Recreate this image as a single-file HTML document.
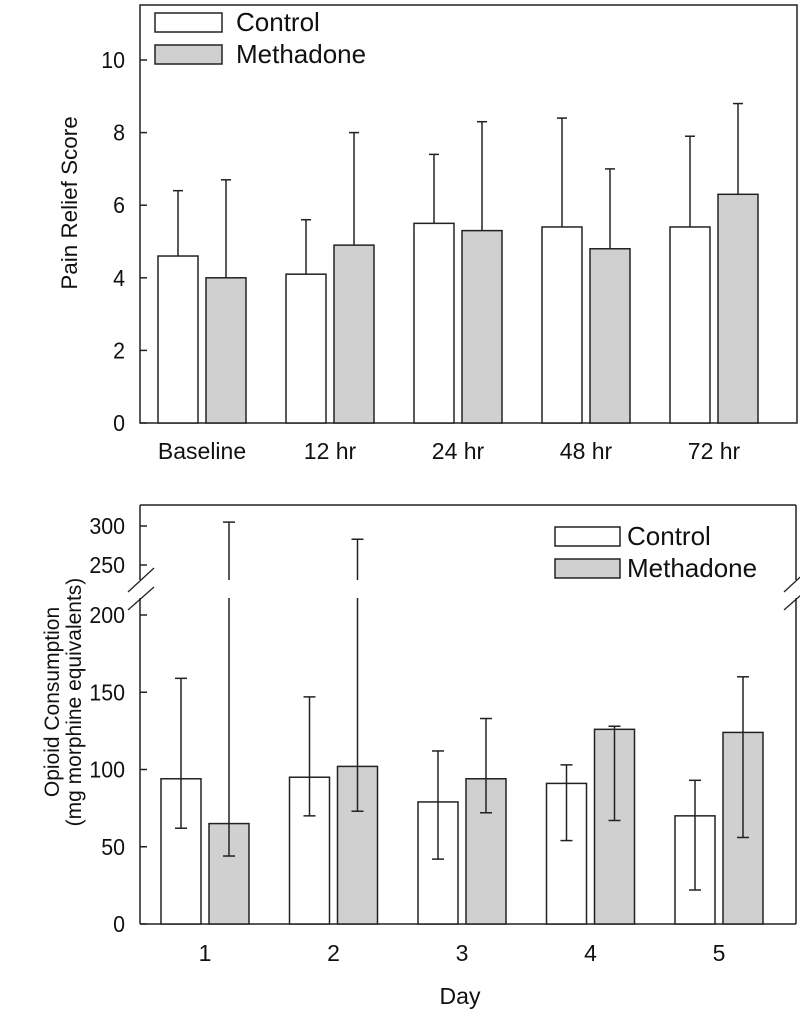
<!DOCTYPE html>
<html><head><meta charset="utf-8"><style>
body{margin:0;background:#fff}
svg{display:block;font-family:"Liberation Sans",Arial,sans-serif}
</style></head><body>
<svg id="c" width="800" height="1012" viewBox="0 0 800 1012" xmlns="http://www.w3.org/2000/svg"></svg>
<script>
const topCats=["Baseline","12 hr","24 hr","48 hr","72 hr"];
const topControl=[4.6,4.1,5.5,5.4,5.4];
const topControlErr=[6.4,5.6,7.4,8.4,7.9];
const topMeth=[4.0,4.9,5.3,4.8,6.3];
const topMethErr=[6.7,8.0,8.3,7.0,8.8];
const topTicks=[0,2,4,6,8,10];
const botCats=["1","2","3","4","5"];
const botControl=[94,95,79,91,70];
const botControlLo=[62,70,42,54,22];
const botControlHi=[159,147,112,103,93];
const botMeth=[65,102,94,126,124];
const botMethLo=[44,73,72,67,56];
const botMethHi=[305,283,133,128,160];
const botTicks=[0,50,100,150,200,250,300];

const svg=document.getElementById('c');
const NS='http://www.w3.org/2000/svg';
function mk(tag,attrs,parent,name){const e=document.createElementNS(NS,tag);for(const k in attrs)e.setAttribute(k,attrs[k]);


(parent||svg).appendChild(e);return e;}
function txt(x,y,s,size,anchor,name,rot,sx){
 sx=sx||1;
 const tr=rot?`translate(${x},${y}) rotate(-90) scale(${sx},1)`:`translate(${x},${y}) scale(${sx},1)`;
 const t=mk('text',{x:0,y:0,'font-size':size,'text-anchor':anchor,fill:'#111',transform:tr},svg,name);t.textContent=s;return t;}
const stroke='#222';

// ---------- top chart ----------
const tL=140,tR=797,tT=5,tB=423;
const ty=v=>tB-(v/10)*(423-60);
const tx=i=>202+i*128;
mk('rect',{x:tL,y:tT,width:tR-tL,height:tB-tT,fill:'none',stroke:stroke,'stroke-width':1.5},svg,'top-plot-frame');
topTicks.forEach(v=>{mk('line',{x1:tL,x2:tL+7,y1:ty(v),y2:ty(v),stroke:stroke,'stroke-width':1.5},svg,'top-y-tick');
 txt(125,ty(v)+8,String(v),23,'end','top-y-tick-label',false,0.93);});
topCats.forEach((c,i)=>{
 const cx=tx(i);
 [[topControl,topControlErr,'#fff',-44,'control'],[topMeth,topMethErr,'#d0d0d0',4,'methadone']].forEach(([vals,err,fill,off,nm])=>{
  const x=cx+off;
  mk('line',{x1:x+20,x2:x+20,y1:ty(err[i]),y2:ty(vals[i]),stroke:stroke,'stroke-width':1.5},svg,'top-error-bar-'+nm);
  mk('line',{x1:x+15,x2:x+25,y1:ty(err[i]),y2:ty(err[i]),stroke:stroke,'stroke-width':1.5},svg,'top-error-cap-'+nm);
  mk('rect',{x:x,y:ty(vals[i]),width:40,height:tB-ty(vals[i]),fill:fill,stroke:stroke,'stroke-width':1.5},svg,'top-bar-'+nm);
 });
 txt(cx,459,c,23,'middle','top-x-tick-label');
});
txt(77,203,'Pain Relief Score',22,'middle','top-y-axis-title',true,1.02);
mk('rect',{x:155,y:13,width:67,height:19,fill:'#fff',stroke:stroke,'stroke-width':1.5},svg,'top-legend-swatch-control');
mk('rect',{x:155,y:45,width:67,height:19,fill:'#d0d0d0',stroke:stroke,'stroke-width':1.5},svg,'top-legend-swatch-methadone');
txt(236,31,'Control',26,'start','top-legend-label-control');
txt(236,63,'Methadone',26,'start','top-legend-label-methadone');

// ---------- bottom chart ----------
const bL=140,bR=796,bT=505,bB=924;
const by=v=>v<=200?bB-v*1.545:565-(v-250)*0.78;
const bx=i=>205+i*128.5;
mk('line',{x1:bL,x2:bR,y1:bT,y2:bT,stroke:stroke,'stroke-width':1.5},svg,'bottom-plot-top');
mk('line',{x1:bL,x2:bR,y1:bB,y2:bB,stroke:stroke,'stroke-width':1.5},svg,'bottom-x-axis');
mk('line',{x1:bL,x2:bL,y1:bT,y2:580,stroke:stroke,'stroke-width':1.5},svg,'bottom-y-axis-upper');
mk('line',{x1:bL,x2:bL,y1:598,y2:bB,stroke:stroke,'stroke-width':1.5},svg,'bottom-y-axis-lower');
mk('line',{x1:bR,x2:bR,y1:bT,y2:580,stroke:stroke,'stroke-width':1.5},svg,'bottom-right-upper');
mk('line',{x1:bR,x2:bR,y1:598,y2:bB,stroke:stroke,'stroke-width':1.5},svg,'bottom-right-lower');
[[128,592,154,568],[128,610,154,587],[784,592,810,568],[784,610,810,587]].forEach(p=>mk('line',{x1:p[0],y1:p[1],x2:p[2],y2:p[3],stroke:stroke,'stroke-width':1.3},svg,'axis-break-mark'));
botTicks.forEach(v=>{mk('line',{x1:bL,x2:bL+7,y1:by(v),y2:by(v),stroke:stroke,'stroke-width':1.5},svg,'bottom-y-tick');
 txt(125,by(v)+8,String(v),23,'end','bottom-y-tick-label',false,0.93);});
function errLine(x,lo,hi,nm){
 if(hi>200){
  mk('line',{x1:x,x2:x,y1:by(lo),y2:598,stroke:stroke,'stroke-width':1.5},svg,'bottom-error-bar-'+nm);
  mk('line',{x1:x,x2:x,y1:580,y2:by(hi),stroke:stroke,'stroke-width':1.5},svg,'bottom-error-bar-upper-'+nm);
 } else mk('line',{x1:x,x2:x,y1:by(lo),y2:by(hi),stroke:stroke,'stroke-width':1.5},svg,'bottom-error-bar-'+nm);
 [lo,hi].forEach(v=>mk('line',{x1:x-6,x2:x+6,y1:by(v),y2:by(v),stroke:stroke,'stroke-width':1.5},svg,'bottom-error-cap-'+nm));
}
botCats.forEach((c,i)=>{
 const cx=bx(i);
 [[botControl,botControlLo,botControlHi,'#fff',-44,'control'],[botMeth,botMethLo,botMethHi,'#d0d0d0',4,'methadone']].forEach(([vals,lo,hi,fill,off,nm])=>{
  const x=cx+off;
  mk('rect',{x:x,y:by(vals[i]),width:40,height:bB-by(vals[i]),fill:fill,stroke:stroke,'stroke-width':1.5},svg,'bottom-bar-'+nm);
  errLine(x+20,lo[i],hi[i],nm);
 });
 txt(cx,961,c,23,'middle','bottom-x-tick-label');
});
txt(460,1004,'Day',23,'middle','bottom-x-axis-title');
txt(59,702,'Opioid Consumption',21,'middle','bottom-y-axis-title-line1',true);
txt(81,702,'(mg morphine equivalents)',21,'middle','bottom-y-axis-title-line2',true);
mk('rect',{x:555,y:527,width:65,height:19,fill:'#fff',stroke:stroke,'stroke-width':1.5},svg,'bottom-legend-swatch-control');
mk('rect',{x:555,y:559,width:65,height:19,fill:'#d0d0d0',stroke:stroke,'stroke-width':1.5},svg,'bottom-legend-swatch-methadone');
txt(627,545,'Control',26,'start','bottom-legend-label-control');
txt(627,577,'Methadone',26,'start','bottom-legend-label-methadone');
</script>
</body></html>
